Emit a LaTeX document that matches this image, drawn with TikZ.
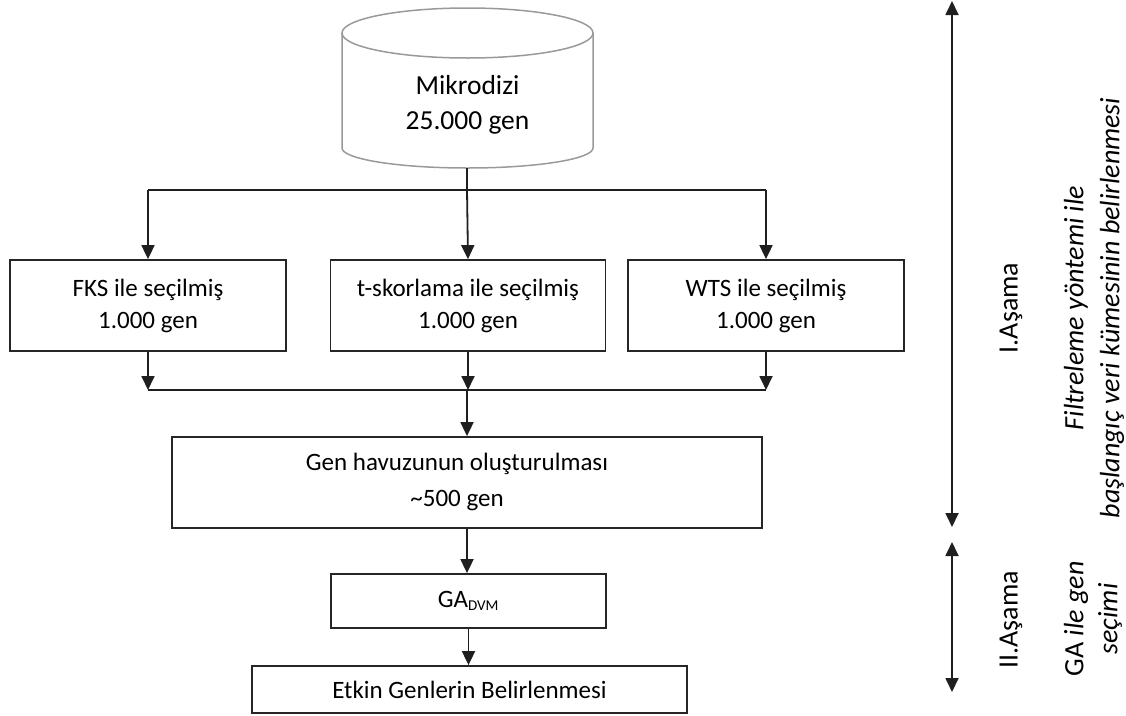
\documentclass[tikz,border=0pt]{standalone}
\usepackage{fontspec}
\setmainfont{Carlito}
\usetikzlibrary{arrows.meta}
\begin{document}
\begin{tikzpicture}[x=1pt,y=-1pt,
  font=\fontsize{25}{32}\selectfont,
  line/.style={draw=black!88, line width=1.8pt},
  arr/.style={line, -{Triangle[length=14pt,width=13pt]}},
  darr/.style={line, {Triangle[length=14pt,width=13pt]}-{Triangle[length=14pt,width=13pt]}},
  box/.style={draw=black!85, line width=1.8pt, align=center, inner sep=0pt},
  cyl/.style={draw=black!40, line width=1.5pt},
  side/.style={rotate=90, align=center, inner sep=0pt}]
\useasboundingbox (0,0) rectangle (1126,715);

% database cylinder
\draw[cyl] (342,33) -- (342,148) arc[start angle=180,end angle=360,x radius=125.5pt,y radius=20pt] -- (593,33);
\draw[cyl] (467.5,33) ellipse[x radius=125.5pt,y radius=25pt];
\node[align=center, font=\fontsize{27.5}{35}\selectfont] (db) at (467.5,105) {Mikrodizi\\25.000 gen};
\coordinate (dbbot) at (467,168);
\coordinate (split) at (467,190);
\coordinate (join) at (467,390);

% selection boxes
\node[box, minimum width=276pt, minimum height=91pt] (fks) at (148,305.5) {FKS ile seçilmiş\\1.000 gen};
\node[box, minimum width=275pt, minimum height=91pt] (tsk) at (468,305.5) {t-skorlama ile seçilmiş\\1.000 gen};
\node[box, minimum width=276pt, minimum height=91pt] (wts) at (766,305.5) {WTS ile seçilmiş\\1.000 gen};

% gene pool and GA
\node[box, minimum width=590pt, minimum height=91pt] (pool) at (467,482.5) {};
\node[align=center, inner sep=0pt, font=\fontsize{25}{36}\selectfont] (pooltext) at (457,482) {Gen havuzunun oluşturulması\\\textasciitilde500 gen};
\node[box, minimum width=275pt, minimum height=54pt] (ga) at (468.5,601) {GA\textsubscript{\fontsize{15}{15}\selectfont DVM}};
\node[box, minimum width=435pt, minimum height=47pt] (etkin) at (469.5,689.5) {Etkin Genlerin Belirlenmesi};

% connectors
\draw[line] (dbbot) -- (split);
\draw[line] (fks.north |- split) -- (wts.north |- split);
\draw[arr] (fks.north |- split) -- (fks.north);
\draw[arr] (split) -- (tsk.north);
\draw[arr] (wts.north |- split) -- (wts.north);
\draw[arr] (fks.south) -- (fks.south |- join);
\draw[arr] (tsk.south) -- (tsk.south |- join);
\draw[arr] (wts.south) -- (wts.south |- join);
\draw[line] (fks.south |- join) -- (wts.south |- join);
\draw[arr] (join) -- (pool.north);
\draw[arr] (pool.south -| join) -- (ga.north -| join);
\draw[arr] (ga.south) -- (etkin.north -| ga.south);

% phase markers
\coordinate (p1a) at (952,1);
\coordinate (p1b) at (952,527);
\coordinate (p2a) at (952,542);
\coordinate (p2b) at (952,692);
\draw[darr] (p1a) -- (p1b);
\draw[darr] (p2a) -- (p2b);

\node[side, font=\fontsize{28}{34}\selectfont] (s1) at (1011,308) {I.Aşama};
\node[side, font=\fontsize{28}{34}\selectfont] (s2) at (1011,620) {II.Aşama};
\node[side, font=\fontsize{28}{36}\selectfont\itshape] (d1) at (1094,308) {Filtreleme yöntemi ile\\başlangıç veri kümesinin belirlenmesi};
\node[side, font=\fontsize{28}{34}\selectfont] (d2) at (1093,619) {GA \textit{ile gen}\\\textit{seçimi}};
\end{tikzpicture}
\end{document}
